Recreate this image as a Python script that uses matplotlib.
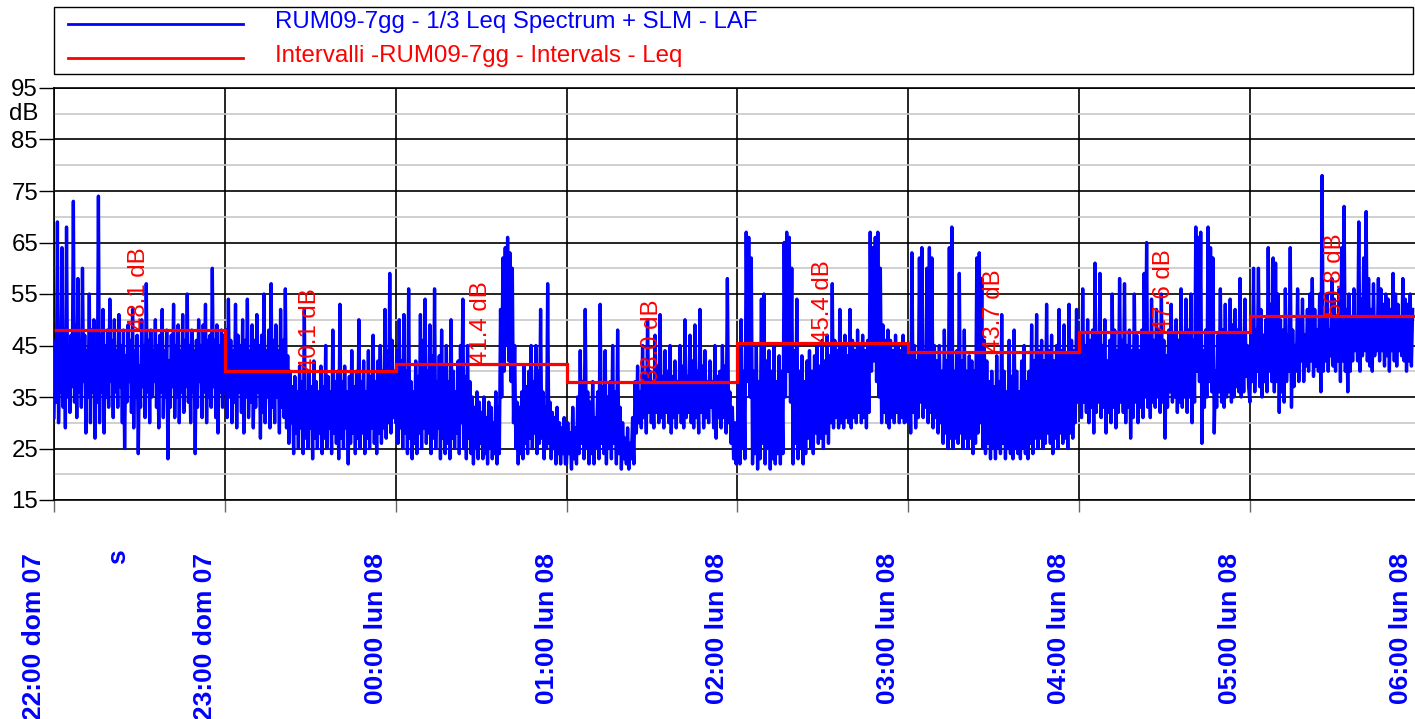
import numpy as np
import matplotlib
matplotlib.use("Agg")
import matplotlib.pyplot as plt
from matplotlib.patches import Rectangle
from matplotlib.lines import Line2D

plt.rcParams['font.family'] = ['Liberation Sans', 'DejaVu Sans']

# ---------------- data ----------------
hour_labels = ["22:00 dom 07", "23:00 dom 07", "00:00 lun 08", "01:00 lun 08",
               "02:00 lun 08", "03:00 lun 08", "04:00 lun 08", "05:00 lun 08",
               "06:00 lun 08"]
interval_leq = [48.1, 40.1, 41.4, 38.0, 45.4, 43.7, 47.6, 50.8]
y_major = [15, 25, 35, 45, 55, 65, 75, 85, 95]
y_minor = [20, 30, 40, 50, 60, 70, 80, 90]

# LAF samples (dB), read hour by hour (start at 22:00)
laf_22 = [31, 46, 34, 69, 30, 44, 36, 64, 33, 48, 29, 68, 35, 45, 32, 47, 37, 73, 34, 49,
          31, 58, 36, 46, 33, 60, 38, 47, 28, 44, 35, 55, 30, 48, 36, 50, 27, 45, 34, 74,
          30, 47, 36, 52, 28, 45, 35, 48, 33, 54, 38, 46, 31, 50, 36, 44, 33, 51, 37, 45,
          30, 48, 25, 43, 34, 49, 38, 46, 32, 52, 29, 44, 35, 47, 24, 41, 33, 50, 37, 45,
          31, 57, 36, 46, 30, 48, 35, 44, 38, 50, 33, 45, 29, 47, 36, 52, 31, 44, 35, 48,
          23, 42, 33, 47, 37, 53, 31, 45, 35, 49, 30, 44, 36, 51, 32, 46, 37, 55, 34, 45,
          30, 48, 36, 44, 24, 46, 33, 50, 38, 45, 31, 49, 36, 53, 30, 46, 35, 47, 33, 60,
          37, 46, 31, 49, 28, 45, 36, 48, 33, 47]
laf_23 = [36, 48, 31, 54, 35, 46, 30, 44, 34, 53, 29, 47, 36, 45, 32, 50, 28, 46, 35, 54,
          31, 44, 34, 49, 29, 46, 33, 51, 36, 45, 27, 47, 32, 55, 30, 44, 35, 48, 29, 57,
          33, 46, 30, 49, 35, 44, 28, 52, 33, 46, 31, 56, 29, 43, 26, 40, 30, 37, 24, 39,
          28, 36, 25, 41, 29, 38, 24, 52, 27, 36, 25, 40, 29, 37, 23, 42, 27, 38, 25, 36,
          28, 41, 24, 37, 27, 45, 25, 39, 29, 36, 24, 48, 28, 38, 26, 40, 23, 53, 27, 38,
          25, 41, 29, 36, 22, 39, 26, 44, 28, 37, 24, 40, 27, 50, 25, 38, 28, 42, 24, 36,
          27, 44, 25, 39, 29, 47, 26, 38, 24, 42, 28, 45, 26, 40, 29, 52, 27, 44, 30, 59,
          28, 46, 31, 40]
laf_00 = [30, 44, 26, 50, 29, 42, 25, 51, 28, 40, 24, 56, 27, 38, 23, 36, 26, 42, 24, 39,
          28, 51, 25, 46, 29, 54, 26, 40, 28, 49, 24, 43, 27, 56, 25, 38, 29, 43, 23, 48,
          27, 41, 24, 45, 26, 38, 23, 50, 27, 40, 25, 36, 28, 42, 24, 45, 30, 54, 25, 39,
          23, 45, 27, 38, 24, 35, 22, 33, 25, 36, 23, 34, 26, 32, 23, 35, 24, 31, 22, 34,
          25, 33, 23, 30, 24, 36, 22, 33, 24, 52, 35, 62, 40, 64, 45, 66, 42, 63, 38, 60,
          30, 45, 25, 34, 22, 33, 24, 36, 23, 41, 26, 37, 24, 40, 27, 45, 25, 38, 28, 45,
          24, 40, 26, 52, 27, 36, 23, 33, 25, 57, 26, 34, 23, 32, 25, 31, 22, 33, 24, 30,
          22, 29, 24, 31, 22]
laf_01 = [22, 30, 24, 28, 21, 33, 23, 29, 22, 35, 24, 44, 26, 38, 23, 52, 25, 36, 22, 34,
          24, 38, 22, 31, 25, 36, 23, 53, 26, 37, 24, 44, 22, 35, 25, 38, 23, 45, 26, 36,
          22, 48, 24, 33, 21, 30, 23, 27, 22, 29, 21, 26, 23, 31, 22, 38, 28, 41, 30, 36,
          29, 45, 31, 39, 28, 50, 32, 40, 30, 38, 29, 47, 32, 41, 30, 51, 31, 39, 29, 44,
          32, 40, 30, 45, 28, 39, 31, 42, 29, 38, 32, 45, 30, 41, 29, 50, 31, 39, 32, 47,
          30, 42, 29, 49, 31, 40, 28, 52, 32, 41, 29, 44, 31, 38, 30, 42, 33, 38, 29, 45,
          27, 39, 31, 40, 29, 45, 31, 41, 28, 58, 30, 36, 26, 33, 23, 30, 22]
laf_02 = [26, 42, 22, 50, 25, 40, 23, 67, 38, 66, 35, 62, 22, 40, 24, 45, 21, 38, 23, 54,
          26, 55, 22, 42, 25, 44, 21, 40, 23, 45, 22, 38, 24, 43, 22, 40, 24, 65, 35, 67,
          40, 66, 34, 60, 22, 44, 26, 54, 23, 40, 25, 43, 22, 38, 24, 42, 27, 44, 25, 40,
          24, 43, 28, 45, 26, 41, 27, 46, 25, 42, 28, 47, 26, 43, 30, 57, 29, 46, 31, 44,
          29, 52, 30, 45, 29, 47, 31, 43, 30, 52, 29, 46, 31, 44, 30, 48, 32, 45, 30, 47,
          31, 44, 29, 46, 32, 67, 40, 64, 42, 66, 38, 67, 35, 60, 30, 49, 32, 46, 30, 48,
          29, 46, 31, 44, 30, 47, 32, 45, 30, 44, 31, 47, 30, 45, 31]
laf_03 = [30, 43, 28, 63, 32, 45, 29, 42, 31, 62, 34, 64, 31, 44, 33, 60, 30, 64, 32, 62,
          29, 45, 31, 42, 28, 45, 30, 40, 26, 48, 28, 42, 25, 64, 27, 68, 25, 40, 27, 44,
          26, 59, 28, 42, 25, 48, 27, 40, 25, 43, 27, 42, 24, 40, 26, 62, 28, 63, 30, 58,
          25, 46, 24, 42, 26, 38, 23, 40, 25, 37, 23, 43, 25, 38, 24, 51, 26, 40, 23, 36,
          25, 46, 24, 39, 23, 48, 25, 40, 24, 36, 23, 42, 25, 45, 24, 38, 23, 40, 26, 49,
          24, 42, 27, 51, 25, 44, 27, 46, 25, 42, 26, 53, 28, 44, 26, 47, 24, 42, 27, 45,
          25, 52, 28, 44, 26, 49, 27, 43, 25, 53, 28, 46, 27, 44, 30, 52, 34]
laf_04 = [36, 46, 31, 56, 34, 45, 32, 50, 30, 46, 33, 48, 28, 61, 32, 47, 34, 59, 31, 45,
          33, 50, 28, 42, 32, 46, 30, 55, 33, 48, 29, 44, 32, 58, 34, 46, 32, 57, 30, 45,
          33, 48, 27, 44, 31, 55, 34, 47, 30, 44, 33, 48, 31, 59, 35, 65, 33, 47, 31, 54,
          34, 46, 33, 52, 35, 48, 32, 55, 34, 46, 27, 43, 33, 48, 36, 53, 34, 47, 35, 50,
          32, 46, 34, 56, 33, 47, 35, 54, 32, 48, 35, 55, 30, 46, 34, 68, 40, 66, 38, 67,
          26, 44, 33, 48, 35, 68, 38, 64, 36, 62, 28, 40, 33, 47, 36, 56, 34, 48, 33, 53,
          35, 47, 36, 54, 34, 49, 35, 52, 37, 48, 36, 58, 35, 47, 36, 54, 39, 45, 37]
laf_05 = [34, 47, 38, 60, 36, 48, 40, 60, 37, 52, 35, 47, 38, 50, 36, 64, 40, 53, 38, 62,
          36, 61, 38, 55, 32, 50, 36, 48, 34, 56, 38, 47, 40, 64, 33, 48, 37, 45, 40, 56,
          38, 50, 42, 54, 38, 47, 41, 52, 40, 55, 42, 58, 39, 52, 41, 48, 40, 55, 36, 78,
          40, 50, 42, 55, 40, 48, 43, 58, 41, 54, 40, 50, 42, 56, 38, 64, 42, 72, 40, 52,
          36, 55, 40, 50, 42, 56, 44, 50, 42, 69, 40, 54, 43, 62, 44, 71, 42, 58, 41, 52,
          40, 57, 43, 50, 44, 58, 42, 56, 44, 53, 41, 55, 43, 54, 40, 52, 44, 59, 42, 55,
          41, 53, 44, 50, 43, 58, 42, 54, 40, 53, 42, 55, 41, 52]
laf_hours = [laf_22, laf_23, laf_00, laf_01, laf_02, laf_03, laf_04, laf_05]
hour_span = [1, 1, 1, 1, 1, 1, 1, 0.96]   # last hour ends just before 06:00

# ---------------- figure ----------------
W, H = 1415, 719
fig = plt.figure(figsize=(W / 100, H / 100), dpi=100)
x0, x1 = 54, 1420.7
y_bot, y_top = 500, 88
ax = fig.add_axes([x0 / W, 1 - y_bot / H, (x1 - x0) / W, (y_bot - y_top) / H])

t_all, v_all = [], []
for h, (vals, span) in enumerate(zip(laf_hours, hour_span)):
    n = len(vals)
    t_all.append(h + np.arange(n) / n * span)
    v_all.append(np.asarray(vals, dtype=float))
t_all = np.concatenate(t_all)
v_all = np.concatenate(v_all)

ax.plot(t_all, v_all, color='#0000ff', lw=2.4, zorder=3)

edges = np.arange(len(interval_leq) + 1)
ax.stairs(interval_leq, edges, baseline=None, color='#ff0000', lw=2.3, zorder=4)

for i, v in enumerate(interval_leq):
    ax.text(i + 0.5, v, f"{v:.1f} dB", rotation=90, ha='center', va='bottom',
            color='#ff0000', fontsize=17.3, zorder=5)

ax.set_xlim(0, 8)
ax.set_ylim(15, 95)
ax.set_yticks(y_major)
ax.set_yticklabels([str(v) for v in y_major])
ax.set_yticks(y_minor, minor=True)
ax.set_xticks(range(len(hour_labels)))
ax.set_xticklabels([''] * len(hour_labels))

ax.grid(which='major', axis='both', color='black', lw=1.2, zorder=1)
ax.grid(which='minor', axis='y', color='#c8c8c8', lw=1.2, zorder=0.5)
ax.set_axisbelow(True)

ax.tick_params(axis='y', which='major', length=10.8, width=1.0, color='black',
               labelsize=17.3, pad=0.7, labelcolor='black')
ax.tick_params(axis='y', which='minor', length=0)
ax.tick_params(axis='x', which='major', length=8.6, width=1.0, color='#666666')

for s in ['left', 'top', 'bottom']:
    ax.spines[s].set_color('black')
    ax.spines[s].set_linewidth(1.2)
ax.spines['right'].set_visible(False)

# "dB" unit label at the 90 position
ax.annotate("dB", xy=(0, 90), xycoords=('axes fraction', 'data'),
            xytext=(-16, 0), textcoords='offset pixels', ha='right', va='center',
            fontsize=17.3, color='black', annotation_clip=False)

# time labels
for i, lab in enumerate(hour_labels):
    ax.annotate(lab, xy=(i, 0), xycoords=('data', 'axes fraction'),
                xytext=(-20, -53), textcoords='offset pixels',
                rotation=90, ha='center', va='top', fontsize=19,
                fontweight='bold', color='#0000ff', annotation_clip=False)
# unit "s"
fig.text(118 / W, 1 - 549 / H, "s", rotation=90, ha='center', va='top',
         fontsize=19, fontweight='bold', color='#0000ff')

# legend box
fig.add_artist(Rectangle((54 / W, 1 - 74 / H), (1413 - 54) / W, 67 / H,
                         transform=fig.transFigure, fill=False,
                         edgecolor='black', lw=1.0))
fig.add_artist(Line2D([68 / W, 243 / W], [1 - 24 / H, 1 - 24 / H],
                      transform=fig.transFigure, color='#0000ff', lw=2.0))
fig.add_artist(Line2D([68 / W, 243 / W], [1 - 58 / H, 1 - 58 / H],
                      transform=fig.transFigure, color='#ff0000', lw=2.0))
fig.text(275 / W, 1 - 22 / H, "RUM09-7gg - 1/3 Leq Spectrum + SLM - LAF",
         ha='left', va='center', fontsize=17.3, color='#0000ff')
fig.text(275 / W, 1 - 56 / H, "Intervalli -RUM09-7gg - Intervals - Leq",
         ha='left', va='center', fontsize=17.3, color='#ff0000')

fig.savefig("out.png", dpi=100)
